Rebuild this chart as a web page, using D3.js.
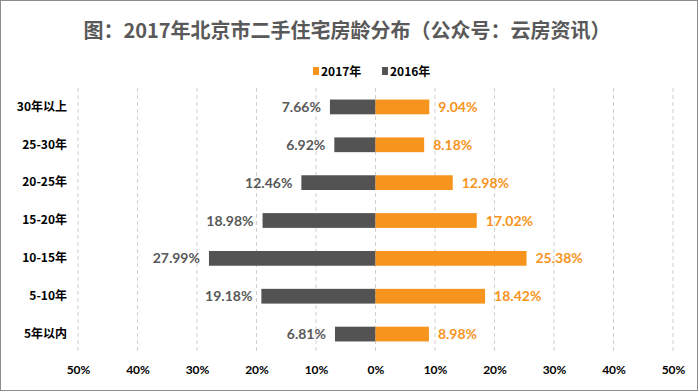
<!DOCTYPE html>
<html>
<head>
<meta charset="utf-8">
<script src="https://cdn.jsdelivr.net/npm/d3@7"></script>
<style>
  body { margin: 0; background: #fff; }
  svg { display: block; }
</style>
</head>
<body>
<svg id="chart" width="698" height="391"></svg>
<script>
const categories = ["30年以上", "25-30年", "20-25年", "15-20年", "10-15年", "5-10年", "5年以内"];
const values2016 = [7.66, 6.92, 12.46, 18.98, 27.99, 19.18, 6.81];
const values2017 = [9.04, 8.18, 12.98, 17.02, 25.38, 18.42, 8.98];
const tickValues = [-50, -40, -30, -20, -10, 0, 10, 20, 30, 40, 50];
const seriesNames = ["2017年", "2016年"];

const width = 698, height = 391;
const orange = "#F7941D", dark = "#535353";
const numFont = "Lato, 'Open Sans', sans-serif";
const cjkFont = "'Noto Sans CJK SC', sans-serif";

let svg = d3.select("#chart");

svg.append("rect")
  .attr("x", 0.5).attr("y", 0.5)
  .attr("width", width - 1).attr("height", height - 1)
  .attr("fill", "#fff").attr("stroke", "#8c8c8c");

// title
svg.append("text")
  .attr("x", 347).attr("y", 38)
  .attr("text-anchor", "middle")
  .attr("font-family", cjkFont)
  .attr("font-weight", "bold")
  .attr("font-size", 20)
  .attr("fill", "#595959")
  .text("图：2017年北京市二手住宅房龄分布（公众号：云房资讯）");

// legend
let legend = svg.append("g").attr("font-family", cjkFont).attr("font-weight", "bold").attr("font-size", 12);
let legendX = [313, 382];
seriesNames.forEach((name, i) => {
  legend.append("rect")
    .attr("x", legendX[i]).attr("y", 67)
    .attr("width", 6).attr("height", 8)
    .attr("fill", i === 0 ? orange : dark);
  legend.append("text")
    .attr("x", legendX[i] + 8).attr("y", 75.5)
    .attr("fill", "#000")
    .text(name);
});

let x = d3.scaleLinear().domain([-50, 50]).range([78, 673]);
let y = d3.scaleBand().domain(categories).range([88, 353]).paddingInner(0.61).paddingOuter(0.305);

// gridlines
svg.append("g")
  .selectAll("line")
  .data(tickValues)
  .enter()
  .append("line")
  .attr("x1", (d) => x(d)).attr("x2", (d) => x(d))
  .attr("y1", 88).attr("y2", 352)
  .attr("stroke", "#cfcfcf")
  .attr("stroke-dasharray", "4,3");

// x axis labels
let xAxis = d3.axisBottom(x)
  .tickValues(tickValues)
  .tickSize(0)
  .tickFormat((d) => Math.abs(d) + "%");

svg.append("g")
  .attr("transform", "translate(0,362)")
  .call(xAxis)
  .call((g) => g.select(".domain").remove())
  .selectAll("text")
  .attr("font-family", numFont)
  .attr("font-weight", "bold")
  .attr("font-size", 12)
  .attr("fill", "#000");

// category labels
let yAxis = d3.axisLeft(y).tickSize(0).tickPadding(0);
svg.append("g")
  .attr("transform", "translate(67,0)")
  .call(yAxis)
  .call((g) => g.select(".domain").remove())
  .selectAll("text")
  .attr("font-family", cjkFont)
  .attr("font-weight", "bold")
  .attr("font-size", 12)
  .attr("fill", "#000");

// 2016 bars (left)
svg.append("g")
  .selectAll("rect")
  .data(values2016)
  .enter()
  .append("rect")
  .attr("x", (d) => x(-d))
  .attr("y", (d, i) => y(categories[i]))
  .attr("width", (d) => x(0) - x(-d))
  .attr("height", y.bandwidth())
  .attr("fill", dark);

// 2017 bars (right)
svg.append("g")
  .selectAll("rect")
  .data(values2017)
  .enter()
  .append("rect")
  .attr("x", x(0))
  .attr("y", (d, i) => y(categories[i]))
  .attr("width", (d) => x(d) - x(0))
  .attr("height", y.bandwidth())
  .attr("fill", orange);

// labels
svg.append("g")
  .selectAll("text")
  .data(values2016)
  .enter()
  .append("text")
  .attr("x", (d) => x(-d) - 9)
  .attr("y", (d, i) => y(categories[i]) + y.bandwidth() / 2 + 5)
  .attr("text-anchor", "end")
  .attr("font-family", numFont)
  .attr("font-weight", "bold")
  .attr("font-size", 14)
  .attr("fill", "#595959")
  .text((d) => d.toFixed(2) + "%");

svg.append("g")
  .selectAll("text")
  .data(values2017)
  .enter()
  .append("text")
  .attr("x", (d) => x(d) + 9)
  .attr("y", (d, i) => y(categories[i]) + y.bandwidth() / 2 + 5)
  .attr("font-family", numFont)
  .attr("font-weight", "bold")
  .attr("font-size", 14)
  .attr("fill", orange)
  .text((d) => d.toFixed(2) + "%");
</script>
</body>
</html>
